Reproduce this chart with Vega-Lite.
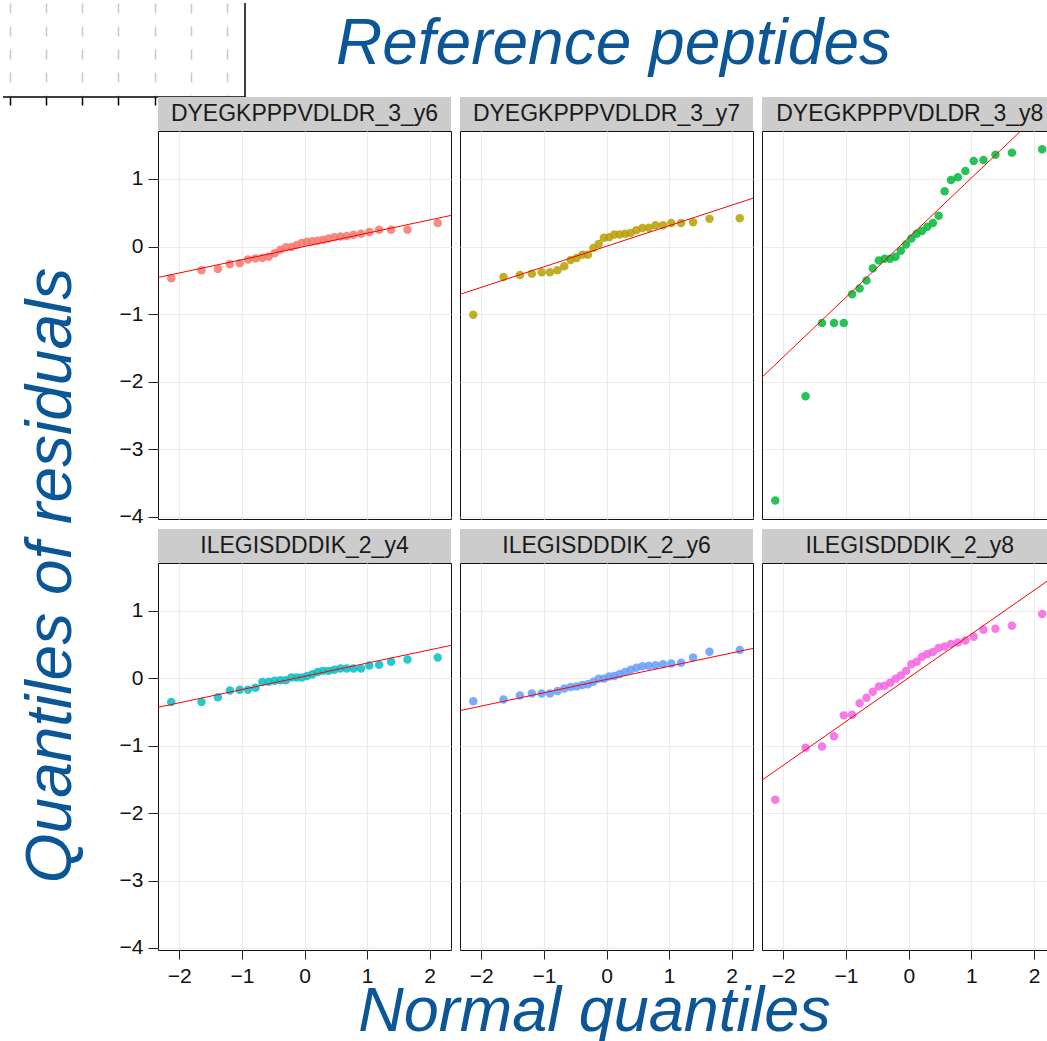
{
  "$schema": "https://vega.github.io/schema/vega-lite/v6.json",
  "padding": 0,
  "background": "white",
  "config": {
    "view": {"stroke": null},
    "font": "Liberation Sans",
    "axis": {"labelFont": "Liberation Sans", "labelFontSize": 21, "labelColor": "#111111", "tickColor": "#222222", "tickWidth": 1, "gridColor": "#EBEBEB", "gridWidth": 1.2, "domainColor": "#111111", "domainWidth": 1}
  },
  "datasets": {
    "strips": [
      {"label": "DYEGKPPPVDLDR_3_y6"}, {"label": "DYEGKPPPVDLDR_3_y7"}, {"label": "DYEGKPPPVDLDR_3_y8"},
      {"label": "ILEGISDDDIK_2_y4"}, {"label": "ILEGISDDDIK_2_y6"}, {"label": "ILEGISDDDIK_2_y8"}
    ],
    "frame": [
      {"k": 1, "fx": -0.194, "fy": 0}, {"k": 2, "fx": 6.5, "fy": 0}, {"k": 3, "fx": 6.5, "fy": 1}
    ],
    "qq": [
      {"panel":"DYEGKPPPVDLDR_3_y6","x":-2.128,"y":-0.47},{"panel":"DYEGKPPPVDLDR_3_y6","x":-1.645,"y":-0.35},{"panel":"DYEGKPPPVDLDR_3_y6","x":-1.383,"y":-0.33},{"panel":"DYEGKPPPVDLDR_3_y6","x":-1.192,"y":-0.26},{"panel":"DYEGKPPPVDLDR_3_y6","x":-1.036,"y":-0.245},{"panel":"DYEGKPPPVDLDR_3_y6","x":-0.903,"y":-0.19},{"panel":"DYEGKPPPVDLDR_3_y6","x":-0.783,"y":-0.175},{"panel":"DYEGKPPPVDLDR_3_y6","x":-0.674,"y":-0.17},{"panel":"DYEGKPPPVDLDR_3_y6","x":-0.573,"y":-0.15},{"panel":"DYEGKPPPVDLDR_3_y6","x":-0.477,"y":-0.1},{"panel":"DYEGKPPPVDLDR_3_y6","x":-0.385,"y":-0.045},{"panel":"DYEGKPPPVDLDR_3_y6","x":-0.297,"y":-0.01},{"panel":"DYEGKPPPVDLDR_3_y6","x":-0.21,"y":-0.005},{"panel":"DYEGKPPPVDLDR_3_y6","x":-0.126,"y":0.025},{"panel":"DYEGKPPPVDLDR_3_y6","x":-0.042,"y":0.055},{"panel":"DYEGKPPPVDLDR_3_y6","x":0.042,"y":0.07},{"panel":"DYEGKPPPVDLDR_3_y6","x":0.126,"y":0.08},{"panel":"DYEGKPPPVDLDR_3_y6","x":0.21,"y":0.085},{"panel":"DYEGKPPPVDLDR_3_y6","x":0.297,"y":0.1},{"panel":"DYEGKPPPVDLDR_3_y6","x":0.385,"y":0.12},{"panel":"DYEGKPPPVDLDR_3_y6","x":0.477,"y":0.14},{"panel":"DYEGKPPPVDLDR_3_y6","x":0.573,"y":0.15},{"panel":"DYEGKPPPVDLDR_3_y6","x":0.674,"y":0.155},{"panel":"DYEGKPPPVDLDR_3_y6","x":0.783,"y":0.175},{"panel":"DYEGKPPPVDLDR_3_y6","x":0.903,"y":0.19},{"panel":"DYEGKPPPVDLDR_3_y6","x":1.036,"y":0.215},{"panel":"DYEGKPPPVDLDR_3_y6","x":1.192,"y":0.25},{"panel":"DYEGKPPPVDLDR_3_y6","x":1.383,"y":0.25},{"panel":"DYEGKPPPVDLDR_3_y6","x":1.645,"y":0.25},{"panel":"DYEGKPPPVDLDR_3_y6","x":2.128,"y":0.35},
      {"panel":"DYEGKPPPVDLDR_3_y7","x":-2.128,"y":-1.01},{"panel":"DYEGKPPPVDLDR_3_y7","x":-1.645,"y":-0.45},{"panel":"DYEGKPPPVDLDR_3_y7","x":-1.383,"y":-0.42},{"panel":"DYEGKPPPVDLDR_3_y7","x":-1.192,"y":-0.4},{"panel":"DYEGKPPPVDLDR_3_y7","x":-1.036,"y":-0.38},{"panel":"DYEGKPPPVDLDR_3_y7","x":-0.903,"y":-0.38},{"panel":"DYEGKPPPVDLDR_3_y7","x":-0.783,"y":-0.35},{"panel":"DYEGKPPPVDLDR_3_y7","x":-0.674,"y":-0.29},{"panel":"DYEGKPPPVDLDR_3_y7","x":-0.573,"y":-0.2},{"panel":"DYEGKPPPVDLDR_3_y7","x":-0.477,"y":-0.17},{"panel":"DYEGKPPPVDLDR_3_y7","x":-0.385,"y":-0.12},{"panel":"DYEGKPPPVDLDR_3_y7","x":-0.297,"y":-0.12},{"panel":"DYEGKPPPVDLDR_3_y7","x":-0.21,"y":-0.02},{"panel":"DYEGKPPPVDLDR_3_y7","x":-0.126,"y":0.04},{"panel":"DYEGKPPPVDLDR_3_y7","x":-0.042,"y":0.13},{"panel":"DYEGKPPPVDLDR_3_y7","x":0.042,"y":0.14},{"panel":"DYEGKPPPVDLDR_3_y7","x":0.126,"y":0.18},{"panel":"DYEGKPPPVDLDR_3_y7","x":0.21,"y":0.18},{"panel":"DYEGKPPPVDLDR_3_y7","x":0.297,"y":0.19},{"panel":"DYEGKPPPVDLDR_3_y7","x":0.385,"y":0.2},{"panel":"DYEGKPPPVDLDR_3_y7","x":0.477,"y":0.24},{"panel":"DYEGKPPPVDLDR_3_y7","x":0.573,"y":0.275},{"panel":"DYEGKPPPVDLDR_3_y7","x":0.674,"y":0.28},{"panel":"DYEGKPPPVDLDR_3_y7","x":0.783,"y":0.315},{"panel":"DYEGKPPPVDLDR_3_y7","x":0.903,"y":0.315},{"panel":"DYEGKPPPVDLDR_3_y7","x":1.036,"y":0.35},{"panel":"DYEGKPPPVDLDR_3_y7","x":1.192,"y":0.35},{"panel":"DYEGKPPPVDLDR_3_y7","x":1.383,"y":0.36},{"panel":"DYEGKPPPVDLDR_3_y7","x":1.645,"y":0.41},{"panel":"DYEGKPPPVDLDR_3_y7","x":2.128,"y":0.42},
      {"panel":"DYEGKPPPVDLDR_3_y8","x":-2.128,"y":-3.755},{"panel":"DYEGKPPPVDLDR_3_y8","x":-1.645,"y":-2.215},{"panel":"DYEGKPPPVDLDR_3_y8","x":-1.383,"y":-1.13},{"panel":"DYEGKPPPVDLDR_3_y8","x":-1.192,"y":-1.13},{"panel":"DYEGKPPPVDLDR_3_y8","x":-1.036,"y":-1.13},{"panel":"DYEGKPPPVDLDR_3_y8","x":-0.903,"y":-0.705},{"panel":"DYEGKPPPVDLDR_3_y8","x":-0.783,"y":-0.62},{"panel":"DYEGKPPPVDLDR_3_y8","x":-0.674,"y":-0.5},{"panel":"DYEGKPPPVDLDR_3_y8","x":-0.573,"y":-0.32},{"panel":"DYEGKPPPVDLDR_3_y8","x":-0.477,"y":-0.205},{"panel":"DYEGKPPPVDLDR_3_y8","x":-0.385,"y":-0.18},{"panel":"DYEGKPPPVDLDR_3_y8","x":-0.297,"y":-0.18},{"panel":"DYEGKPPPVDLDR_3_y8","x":-0.21,"y":-0.15},{"panel":"DYEGKPPPVDLDR_3_y8","x":-0.126,"y":-0.06},{"panel":"DYEGKPPPVDLDR_3_y8","x":-0.042,"y":0.03},{"panel":"DYEGKPPPVDLDR_3_y8","x":0.042,"y":0.12},{"panel":"DYEGKPPPVDLDR_3_y8","x":0.126,"y":0.19},{"panel":"DYEGKPPPVDLDR_3_y8","x":0.21,"y":0.23},{"panel":"DYEGKPPPVDLDR_3_y8","x":0.297,"y":0.295},{"panel":"DYEGKPPPVDLDR_3_y8","x":0.385,"y":0.35},{"panel":"DYEGKPPPVDLDR_3_y8","x":0.477,"y":0.455},{"panel":"DYEGKPPPVDLDR_3_y8","x":0.573,"y":0.82},{"panel":"DYEGKPPPVDLDR_3_y8","x":0.674,"y":0.985},{"panel":"DYEGKPPPVDLDR_3_y8","x":0.783,"y":1.025},{"panel":"DYEGKPPPVDLDR_3_y8","x":0.903,"y":1.12},{"panel":"DYEGKPPPVDLDR_3_y8","x":1.036,"y":1.265},{"panel":"DYEGKPPPVDLDR_3_y8","x":1.192,"y":1.28},{"panel":"DYEGKPPPVDLDR_3_y8","x":1.383,"y":1.36},{"panel":"DYEGKPPPVDLDR_3_y8","x":1.645,"y":1.39},{"panel":"DYEGKPPPVDLDR_3_y8","x":2.128,"y":1.44},
      {"panel":"ILEGISDDDIK_2_y4","x":-2.128,"y":-0.35},{"panel":"ILEGISDDDIK_2_y4","x":-1.645,"y":-0.35},{"panel":"ILEGISDDDIK_2_y4","x":-1.383,"y":-0.28},{"panel":"ILEGISDDDIK_2_y4","x":-1.192,"y":-0.18},{"panel":"ILEGISDDDIK_2_y4","x":-1.036,"y":-0.17},{"panel":"ILEGISDDDIK_2_y4","x":-0.903,"y":-0.17},{"panel":"ILEGISDDDIK_2_y4","x":-0.783,"y":-0.14},{"panel":"ILEGISDDDIK_2_y4","x":-0.674,"y":-0.055},{"panel":"ILEGISDDDIK_2_y4","x":-0.573,"y":-0.05},{"panel":"ILEGISDDDIK_2_y4","x":-0.477,"y":-0.035},{"panel":"ILEGISDDDIK_2_y4","x":-0.385,"y":-0.03},{"panel":"ILEGISDDDIK_2_y4","x":-0.297,"y":-0.03},{"panel":"ILEGISDDDIK_2_y4","x":-0.21,"y":0.01},{"panel":"ILEGISDDDIK_2_y4","x":-0.126,"y":0.01},{"panel":"ILEGISDDDIK_2_y4","x":-0.042,"y":0.01},{"panel":"ILEGISDDDIK_2_y4","x":0.042,"y":0.035},{"panel":"ILEGISDDDIK_2_y4","x":0.126,"y":0.06},{"panel":"ILEGISDDDIK_2_y4","x":0.21,"y":0.095},{"panel":"ILEGISDDDIK_2_y4","x":0.297,"y":0.11},{"panel":"ILEGISDDDIK_2_y4","x":0.385,"y":0.11},{"panel":"ILEGISDDDIK_2_y4","x":0.477,"y":0.125},{"panel":"ILEGISDDDIK_2_y4","x":0.573,"y":0.145},{"panel":"ILEGISDDDIK_2_y4","x":0.674,"y":0.145},{"panel":"ILEGISDDDIK_2_y4","x":0.783,"y":0.145},{"panel":"ILEGISDDDIK_2_y4","x":0.903,"y":0.145},{"panel":"ILEGISDDDIK_2_y4","x":1.036,"y":0.19},{"panel":"ILEGISDDDIK_2_y4","x":1.192,"y":0.2},{"panel":"ILEGISDDDIK_2_y4","x":1.383,"y":0.245},{"panel":"ILEGISDDDIK_2_y4","x":1.645,"y":0.28},{"panel":"ILEGISDDDIK_2_y4","x":2.128,"y":0.31},
      {"panel":"ILEGISDDDIK_2_y6","x":-2.128,"y":-0.34},{"panel":"ILEGISDDDIK_2_y6","x":-1.645,"y":-0.315},{"panel":"ILEGISDDDIK_2_y6","x":-1.383,"y":-0.255},{"panel":"ILEGISDDDIK_2_y6","x":-1.192,"y":-0.225},{"panel":"ILEGISDDDIK_2_y6","x":-1.036,"y":-0.225},{"panel":"ILEGISDDDIK_2_y6","x":-0.903,"y":-0.225},{"panel":"ILEGISDDDIK_2_y6","x":-0.783,"y":-0.19},{"panel":"ILEGISDDDIK_2_y6","x":-0.674,"y":-0.15},{"panel":"ILEGISDDDIK_2_y6","x":-0.573,"y":-0.13},{"panel":"ILEGISDDDIK_2_y6","x":-0.477,"y":-0.12},{"panel":"ILEGISDDDIK_2_y6","x":-0.385,"y":-0.1},{"panel":"ILEGISDDDIK_2_y6","x":-0.297,"y":-0.09},{"panel":"ILEGISDDDIK_2_y6","x":-0.21,"y":-0.05},{"panel":"ILEGISDDDIK_2_y6","x":-0.126,"y":-0.005},{"panel":"ILEGISDDDIK_2_y6","x":-0.042,"y":-0.005},{"panel":"ILEGISDDDIK_2_y6","x":0.042,"y":0.025},{"panel":"ILEGISDDDIK_2_y6","x":0.126,"y":0.035},{"panel":"ILEGISDDDIK_2_y6","x":0.21,"y":0.065},{"panel":"ILEGISDDDIK_2_y6","x":0.297,"y":0.095},{"panel":"ILEGISDDDIK_2_y6","x":0.385,"y":0.125},{"panel":"ILEGISDDDIK_2_y6","x":0.477,"y":0.155},{"panel":"ILEGISDDDIK_2_y6","x":0.573,"y":0.18},{"panel":"ILEGISDDDIK_2_y6","x":0.674,"y":0.185},{"panel":"ILEGISDDDIK_2_y6","x":0.783,"y":0.195},{"panel":"ILEGISDDDIK_2_y6","x":0.903,"y":0.21},{"panel":"ILEGISDDDIK_2_y6","x":1.036,"y":0.22},{"panel":"ILEGISDDDIK_2_y6","x":1.192,"y":0.23},{"panel":"ILEGISDDDIK_2_y6","x":1.383,"y":0.31},{"panel":"ILEGISDDDIK_2_y6","x":1.645,"y":0.395},{"panel":"ILEGISDDDIK_2_y6","x":2.128,"y":0.42},
      {"panel":"ILEGISDDDIK_2_y8","x":-2.128,"y":-1.8},{"panel":"ILEGISDDDIK_2_y8","x":-1.645,"y":-1.03},{"panel":"ILEGISDDDIK_2_y8","x":-1.383,"y":-1.01},{"panel":"ILEGISDDDIK_2_y8","x":-1.192,"y":-0.86},{"panel":"ILEGISDDDIK_2_y8","x":-1.036,"y":-0.55},{"panel":"ILEGISDDDIK_2_y8","x":-0.903,"y":-0.54},{"panel":"ILEGISDDDIK_2_y8","x":-0.783,"y":-0.37},{"panel":"ILEGISDDDIK_2_y8","x":-0.674,"y":-0.29},{"panel":"ILEGISDDDIK_2_y8","x":-0.573,"y":-0.2},{"panel":"ILEGISDDDIK_2_y8","x":-0.477,"y":-0.12},{"panel":"ILEGISDDDIK_2_y8","x":-0.385,"y":-0.11},{"panel":"ILEGISDDDIK_2_y8","x":-0.297,"y":-0.065},{"panel":"ILEGISDDDIK_2_y8","x":-0.21,"y":-0.005},{"panel":"ILEGISDDDIK_2_y8","x":-0.126,"y":0.04},{"panel":"ILEGISDDDIK_2_y8","x":-0.042,"y":0.11},{"panel":"ILEGISDDDIK_2_y8","x":0.042,"y":0.21},{"panel":"ILEGISDDDIK_2_y8","x":0.126,"y":0.245},{"panel":"ILEGISDDDIK_2_y8","x":0.21,"y":0.32},{"panel":"ILEGISDDDIK_2_y8","x":0.297,"y":0.36},{"panel":"ILEGISDDDIK_2_y8","x":0.385,"y":0.39},{"panel":"ILEGISDDDIK_2_y8","x":0.477,"y":0.45},{"panel":"ILEGISDDDIK_2_y8","x":0.573,"y":0.47},{"panel":"ILEGISDDDIK_2_y8","x":0.674,"y":0.51},{"panel":"ILEGISDDDIK_2_y8","x":0.783,"y":0.53},{"panel":"ILEGISDDDIK_2_y8","x":0.903,"y":0.56},{"panel":"ILEGISDDDIK_2_y8","x":1.036,"y":0.615},{"panel":"ILEGISDDDIK_2_y8","x":1.192,"y":0.72},{"panel":"ILEGISDDDIK_2_y8","x":1.383,"y":0.735},{"panel":"ILEGISDDDIK_2_y8","x":1.645,"y":0.78},{"panel":"ILEGISDDDIK_2_y8","x":2.128,"y":0.955}
    ],
    "lines": [
      {"panel":"DYEGKPPPVDLDR_3_y6","x":-2.6,"y":-0.508},{"panel":"DYEGKPPPVDLDR_3_y6","x":2.6,"y":0.512},
      {"panel":"DYEGKPPPVDLDR_3_y7","x":-2.6,"y":-0.785},{"panel":"DYEGKPPPVDLDR_3_y7","x":2.6,"y":0.795},
      {"panel":"DYEGKPPPVDLDR_3_y8","x":-2.6,"y":-2.162},{"panel":"DYEGKPPPVDLDR_3_y8","x":2.6,"y":2.428},
      {"panel":"ILEGISDDDIK_2_y4","x":-2.6,"y":-0.481},{"panel":"ILEGISDDDIK_2_y4","x":2.6,"y":0.539},
      {"panel":"ILEGISDDDIK_2_y6","x":-2.6,"y":-0.53},{"panel":"ILEGISDDDIK_2_y6","x":2.6,"y":0.494},
      {"panel":"ILEGISDDDIK_2_y8","x":-2.6,"y":-1.679},{"panel":"ILEGISDDDIK_2_y8","x":2.6,"y":1.695}
    ]
  },
  "columns": 4,
  "align": "none",
  "bounds": "flush",
  "spacing": {"row": 0, "column": 9},
  "concat": [
    {
      "width": 146, "height": 94,
      "data": {"name": "frame"},
      "mark": {"type": "line", "color": "#000000", "strokeWidth": 1.5},
      "encoding": {
        "x": {"field": "fx", "type": "quantitative", "scale": {"domain": [-0.194, 6.5], "range": [0, 242], "nice": false, "zero": false},
          "axis": {"orient": "bottom", "values": [0, 1, 2, 3, 4, 5, 6], "grid": true, "gridDash": [10, 13], "gridColor": "#C8C8C8", "gridWidth": 1.5, "ticks": true, "tickSize": 8, "tickColor": "#000000", "tickWidth": 1.5, "labels": false, "domain": false, "title": null}},
        "y": {"field": "fy", "type": "quantitative", "scale": {"domain": [0, 1], "nice": false, "zero": false}, "axis": null},
        "order": {"field": "k", "type": "quantitative"}
      }
    },
    {"width": 1, "height": 94, "data": {"name": "strips"}, "mark": {"type": "text", "opacity": 0}, "encoding": {"text": {"field": "label"}}},
    {"width": 1, "height": 94, "data": {"name": "strips"}, "mark": {"type": "text", "opacity": 0}, "encoding": {"text": {"field": "label"}}},
    {"width": 1, "height": 94, "data": {"name": "strips"}, "mark": {"type": "text", "opacity": 0}, "encoding": {"text": {"field": "label"}}},

    {"width": 146, "height": 34, "data": {"name": "strips"}, "mark": {"type": "text", "opacity": 0}, "encoding": {"text": {"field": "label"}}},
    {"width": 293, "height": 34, "view": {"fill": "#CCCCCC", "stroke": null}, "data": {"name": "strips"}, "transform": [{"filter": "datum.label === 'DYEGKPPPVDLDR_3_y6'"}], "mark": {"type": "text", "fontSize": 23, "color": "#1A1A1A", "font": "Liberation Sans"}, "encoding": {"text": {"field": "label", "type": "nominal"}}},
    {"width": 293, "height": 34, "view": {"fill": "#CCCCCC", "stroke": null},
     "title": {"text": "Reference peptides", "fontSize": 64, "font": "Liberation Sans", "fontStyle": "italic", "fontWeight": "normal", "color": "#0B5697", "anchor": "middle", "dx": 7, "offset": 20},
     "data": {"name": "strips"}, "transform": [{"filter": "datum.label === 'DYEGKPPPVDLDR_3_y7'"}], "mark": {"type": "text", "fontSize": 23, "color": "#1A1A1A", "font": "Liberation Sans"}, "encoding": {"text": {"field": "label", "type": "nominal"}}},
    {"width": 287, "height": 34, "view": {"fill": "#CCCCCC", "stroke": null}, "data": {"name": "strips"}, "transform": [{"filter": "datum.label === 'DYEGKPPPVDLDR_3_y8'"}], "mark": {"type": "text", "fontSize": 23, "color": "#1A1A1A", "font": "Liberation Sans"},
     "encoding": {"text": {"field": "label", "type": "nominal"}, "x": {"datum": 0.03, "type": "quantitative", "scale": {"domain": [-1, 1]}, "axis": {"orient": "bottom", "domain": true, "domainColor": "#111111", "ticks": false, "labels": false, "grid": false, "title": null}}}},

    {"width": 146, "height": 388, "data": {"name": "strips"}, "mark": {"type": "text", "opacity": 0}, "encoding": {"text": {"field": "label"}}},
    {
      "width": 293, "height": 388, "view": {"stroke": "#111111", "strokeWidth": 1},
      "layer": [
        {"data": {"name": "qq"}, "transform": [{"filter": "datum.panel === 'DYEGKPPPVDLDR_3_y6'"}],
         "mark": {"type": "circle", "size": 72, "opacity": 0.85, "color": "#F8766D"},
         "encoding": {
           "x": {"field": "x", "type": "quantitative", "scale": {"domain": [-2.34, 2.34], "nice": false, "zero": false}, "axis": {"values": [-2, -1, 0, 1, 2], "labels": false, "ticks": false, "domain": false, "grid": true, "title": null}},
           "y": {"field": "y", "type": "quantitative", "scale": {"domain": [-4.03, 1.71], "nice": false, "zero": false}, "axis": {"values": [-4, -3, -2, -1, 0, 1], "format": "d", "tickSize": 10, "labelPadding": 5, "domain": false, "grid": true, "title": null}}}},
        {"data": {"name": "lines"}, "transform": [{"filter": "datum.panel === 'DYEGKPPPVDLDR_3_y6'"}],
         "mark": {"type": "line", "color": "#FF0000", "strokeWidth": 1, "clip": true},
         "encoding": {"x": {"field": "x", "type": "quantitative"}, "y": {"field": "y", "type": "quantitative"}}}
      ]
    },
    {
      "width": 293, "height": 388, "view": {"stroke": "#111111", "strokeWidth": 1},
      "layer": [
        {"data": {"name": "qq"}, "transform": [{"filter": "datum.panel === 'DYEGKPPPVDLDR_3_y7'"}],
         "mark": {"type": "circle", "size": 72, "opacity": 0.85, "color": "#B79F00"},
         "encoding": {
           "x": {"field": "x", "type": "quantitative", "scale": {"domain": [-2.34, 2.34], "nice": false, "zero": false}, "axis": {"values": [-2, -1, 0, 1, 2], "labels": false, "ticks": false, "domain": false, "grid": true, "title": null}},
           "y": {"field": "y", "type": "quantitative", "scale": {"domain": [-4.03, 1.71], "nice": false, "zero": false}, "axis": {"values": [-4, -3, -2, -1, 0, 1], "labels": false, "ticks": false, "domain": false, "grid": true, "title": null}}}},
        {"data": {"name": "lines"}, "transform": [{"filter": "datum.panel === 'DYEGKPPPVDLDR_3_y7'"}],
         "mark": {"type": "line", "color": "#FF0000", "strokeWidth": 1, "clip": true},
         "encoding": {"x": {"field": "x", "type": "quantitative"}, "y": {"field": "y", "type": "quantitative"}}}
      ]
    },
    {
      "width": 287, "height": 388,
      "layer": [
        {"data": {"name": "qq"}, "transform": [{"filter": "datum.panel === 'DYEGKPPPVDLDR_3_y8'"}],
         "mark": {"type": "circle", "size": 72, "opacity": 0.85, "color": "#00BA38"},
         "encoding": {
           "x": {"field": "x", "type": "quantitative", "scale": {"domain": [-2.34, 2.237], "nice": false, "zero": false}, "axis": {"values": [-2, -1, 0, 1, 2], "labels": false, "ticks": false, "domain": true, "grid": true, "title": null}},
           "y": {"field": "y", "type": "quantitative", "scale": {"domain": [-4.03, 1.71], "nice": false, "zero": false}, "axis": {"values": [-4, -3, -2, -1, 0, 1], "labels": false, "ticks": false, "domain": true, "grid": true, "title": null}}}},
        {"data": {"name": "lines"}, "transform": [{"filter": "datum.panel === 'DYEGKPPPVDLDR_3_y8'"}],
         "mark": {"type": "line", "color": "#FF0000", "strokeWidth": 1, "clip": true},
         "encoding": {"x": {"field": "x", "type": "quantitative"}, "y": {"field": "y", "type": "quantitative"}}}
      ]
    },

    {"width": 146, "height": 10, "data": {"name": "strips"}, "mark": {"type": "text", "opacity": 0}, "encoding": {"text": {"field": "label"}}},
    {"width": 293, "height": 10, "data": {"name": "strips"}, "mark": {"type": "text", "opacity": 0}, "encoding": {"text": {"field": "label"}}},
    {"width": 293, "height": 10, "data": {"name": "strips"}, "mark": {"type": "text", "opacity": 0}, "encoding": {"text": {"field": "label"}}},
    {"width": 287, "height": 10, "data": {"name": "strips"}, "mark": {"type": "text", "opacity": 0}, "encoding": {"text": {"field": "label"}}},

    {"width": 146, "height": 34, "data": {"name": "strips"}, "mark": {"type": "text", "opacity": 0}, "encoding": {"text": {"field": "label"}}},
    {"width": 293, "height": 34, "view": {"fill": "#CCCCCC", "stroke": null}, "data": {"name": "strips"}, "transform": [{"filter": "datum.label === 'ILEGISDDDIK_2_y4'"}], "mark": {"type": "text", "fontSize": 23, "color": "#1A1A1A", "font": "Liberation Sans"}, "encoding": {"text": {"field": "label", "type": "nominal"}}},
    {"width": 293, "height": 34, "view": {"fill": "#CCCCCC", "stroke": null}, "data": {"name": "strips"}, "transform": [{"filter": "datum.label === 'ILEGISDDDIK_2_y6'"}], "mark": {"type": "text", "fontSize": 23, "color": "#1A1A1A", "font": "Liberation Sans"}, "encoding": {"text": {"field": "label", "type": "nominal"}}},
    {"width": 287, "height": 34, "view": {"fill": "#CCCCCC", "stroke": null}, "data": {"name": "strips"}, "transform": [{"filter": "datum.label === 'ILEGISDDDIK_2_y8'"}], "mark": {"type": "text", "fontSize": 23, "color": "#1A1A1A", "font": "Liberation Sans"},
     "encoding": {"text": {"field": "label", "type": "nominal"}, "x": {"datum": 0.03, "type": "quantitative", "scale": {"domain": [-1, 1]}, "axis": {"orient": "bottom", "domain": true, "domainColor": "#111111", "ticks": false, "labels": false, "grid": false, "title": null}}}},

    {"width": 146, "height": 387, "data": {"name": "strips"}, "mark": {"type": "text", "opacity": 0}, "encoding": {"text": {"field": "label"}}},
    {
      "width": 293, "height": 387, "view": {"stroke": "#111111", "strokeWidth": 1},
      "layer": [
        {"data": {"name": "qq"}, "transform": [{"filter": "datum.panel === 'ILEGISDDDIK_2_y4'"}],
         "mark": {"type": "circle", "size": 72, "opacity": 0.85, "color": "#00BFC4"},
         "encoding": {
           "x": {"field": "x", "type": "quantitative", "scale": {"domain": [-2.34, 2.34], "nice": false, "zero": false}, "axis": {"values": [-2, -1, 0, 1, 2], "format": "d", "tickSize": 9, "labelPadding": 6, "domain": false, "grid": true, "title": null}},
           "y": {"field": "y", "type": "quantitative", "scale": {"domain": [-4.03, 1.71], "nice": false, "zero": false},
             "axis": {"values": [-4, -3, -2, -1, 0, 1], "format": "d", "tickSize": 10, "labelPadding": 5, "domain": false, "grid": true,
               "title": "Quantiles of residuals", "titleFont": "Liberation Sans", "titleFontSize": 64, "titleFontStyle": "italic", "titleFontWeight": "normal", "titleColor": "#0B5697", "titleAngle": -90, "titleAlign": "center", "titleBaseline": "alphabetic", "titleX": -88, "titleY": 12}}}},
        {"data": {"name": "lines"}, "transform": [{"filter": "datum.panel === 'ILEGISDDDIK_2_y4'"}],
         "mark": {"type": "line", "color": "#FF0000", "strokeWidth": 1, "clip": true},
         "encoding": {"x": {"field": "x", "type": "quantitative"}, "y": {"field": "y", "type": "quantitative"}}}
      ]
    },
    {
      "width": 293, "height": 387, "view": {"stroke": "#111111", "strokeWidth": 1},
      "layer": [
        {"data": {"name": "qq"}, "transform": [{"filter": "datum.panel === 'ILEGISDDDIK_2_y6'"}],
         "mark": {"type": "circle", "size": 72, "opacity": 0.85, "color": "#619CFF"},
         "encoding": {
           "x": {"field": "x", "type": "quantitative", "scale": {"domain": [-2.34, 2.34], "nice": false, "zero": false},
             "axis": {"values": [-2, -1, 0, 1, 2], "format": "d", "tickSize": 9, "labelPadding": 6, "domain": false, "grid": true,
               "title": "Normal quantiles", "titleFont": "Liberation Sans", "titleFontSize": 63, "titleFontStyle": "italic", "titleFontWeight": "normal", "titleColor": "#0B5697", "titleAngle": 0, "titleAlign": "center", "titleBaseline": "alphabetic", "titleX": 134, "titleY": 80}},
           "y": {"field": "y", "type": "quantitative", "scale": {"domain": [-4.03, 1.71], "nice": false, "zero": false}, "axis": {"values": [-4, -3, -2, -1, 0, 1], "labels": false, "ticks": false, "domain": false, "grid": true, "title": null}}}},
        {"data": {"name": "lines"}, "transform": [{"filter": "datum.panel === 'ILEGISDDDIK_2_y6'"}],
         "mark": {"type": "line", "color": "#FF0000", "strokeWidth": 1, "clip": true},
         "encoding": {"x": {"field": "x", "type": "quantitative"}, "y": {"field": "y", "type": "quantitative"}}}
      ]
    },
    {
      "width": 287, "height": 387,
      "layer": [
        {"data": {"name": "qq"}, "transform": [{"filter": "datum.panel === 'ILEGISDDDIK_2_y8'"}],
         "mark": {"type": "circle", "size": 72, "opacity": 0.85, "color": "#F564E3"},
         "encoding": {
           "x": {"field": "x", "type": "quantitative", "scale": {"domain": [-2.34, 2.237], "nice": false, "zero": false}, "axis": {"values": [-2, -1, 0, 1, 2], "format": "d", "tickSize": 9, "labelPadding": 6, "domain": true, "grid": true, "title": null}},
           "y": {"field": "y", "type": "quantitative", "scale": {"domain": [-4.03, 1.71], "nice": false, "zero": false}, "axis": {"values": [-4, -3, -2, -1, 0, 1], "labels": false, "ticks": false, "domain": true, "grid": true, "title": null}}}},
        {"data": {"name": "lines"}, "transform": [{"filter": "datum.panel === 'ILEGISDDDIK_2_y8'"}],
         "mark": {"type": "line", "color": "#FF0000", "strokeWidth": 1, "clip": true},
         "encoding": {"x": {"field": "x", "type": "quantitative"}, "y": {"field": "y", "type": "quantitative"}}}
      ]
    }
  ]
}
